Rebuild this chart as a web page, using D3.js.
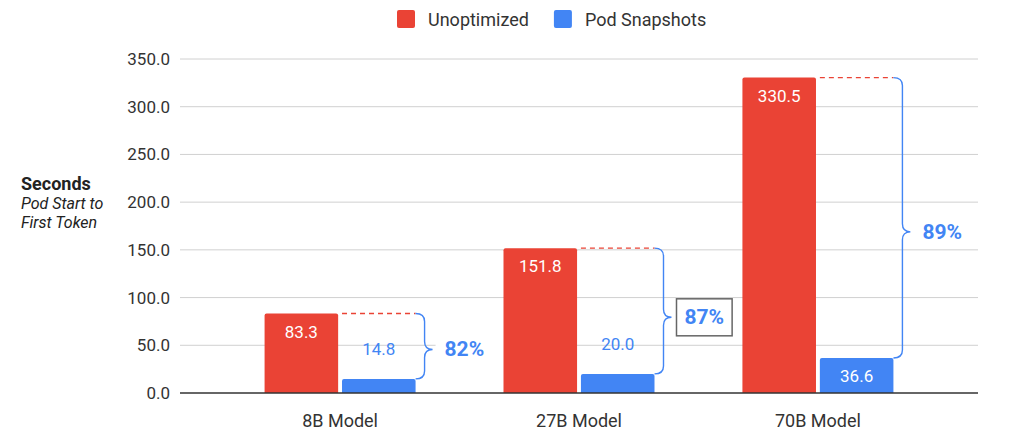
<!DOCTYPE html>
<html>
<head>
  <meta charset="utf-8">
  <title>Pod Start to First Token</title>
  <style>
    body { margin: 0; background: #fff; }
    text { font-family: Roboto, Arial, sans-serif; }
    .grid line { stroke: #d0d0d0; stroke-width: 1px; }
  </style>
</head>
<body>
  <svg id="chart" width="1024" height="440"></svg>

  <script src="https://d3js.org/d3.v7.min.js"></script>
  <script>
    // Data
    const categories = ["8B Model", "27B Model", "70B Model"];
    const seriesNames = ["Unoptimized", "Pod Snapshots"];
    const unoptimized = [83.3, 151.8, 330.5];
    const podSnapshots = [14.8, 20.0, 36.6];
    const reductionLabels = ["82%", "87%", "89%"];
    const boxedLabel = [false, true, false];
    const yTicks = [0, 50, 100, 150, 200, 250, 300, 350];

    const colors = ["#ea4335", "#4285f4"];
    const blueText = "#4285f4";

    const svg = d3.select("#chart");

    const x0 = d3.scaleBand()
      .domain(categories)
      .range([180, 978])
      .paddingInner(0.368)
      .paddingOuter(0.354);

    const x1 = d3.scaleBand()
      .domain(seriesNames)
      .range([0, x0.bandwidth()])
      .paddingInner(0.05);

    const y = d3.scaleLinear()
      .domain([0, 350])
      .range([393, 59]);

    // Gridlines
    svg.append("g")
      .attr("class", "grid")
      .selectAll("line")
      .data(yTicks.filter(d => d > 0))
      .enter().append("line")
      .attr("x1", 180)
      .attr("x2", 978)
      .attr("y1", d => y(d))
      .attr("y2", d => y(d));

    // Y axis tick labels
    const yAxis = d3.axisLeft(y)
      .tickValues(yTicks)
      .tickFormat(d3.format(".1f"))
      .tickSize(0)
      .tickPadding(10);

    svg.append("g")
      .attr("transform", "translate(180,0)")
      .call(yAxis)
      .call(g => g.select(".domain").remove())
      .call(g => g.selectAll("text")
        .attr("fill", "#333")
        .style("font-size", "17px")
        .style("font-family", "Roboto, Arial, sans-serif"));

    // Y axis title
    const yTitle = svg.append("text")
      .attr("x", 21)
      .attr("y", 190)
      .attr("fill", "#222");
    yTitle.append("tspan")
      .attr("x", 21)
      .attr("font-weight", "bold")
      .attr("font-size", 18)
      .text("Seconds");
    yTitle.append("tspan")
      .attr("x", 21)
      .attr("dy", 19)
      .attr("font-style", "italic")
      .attr("font-size", 16)
      .text("Pod Start to");
    yTitle.append("tspan")
      .attr("x", 21)
      .attr("dy", 19)
      .attr("font-style", "italic")
      .attr("font-size", 16)
      .text("First Token");

    // Grouped data
    const groups = categories.map((c, i) => ({
      category: c,
      values: [unoptimized[i], podSnapshots[i]],
      label: reductionLabels[i],
      boxed: boxedLabel[i]
    }));

    const group = svg.selectAll(".group")
      .data(groups)
      .enter().append("g")
      .attr("class", "group")
      .attr("transform", d => `translate(${x0(d.category)},0)`);

    // Bars
    group.selectAll("path.bar")
      .data(d => d.values.map((v, j) => ({ name: seriesNames[j], value: v, j })))
      .enter().append("path")
      .attr("class", "bar")
      .attr("fill", d => colors[d.j])
      .attr("d", d => {
        const bx = x1(d.name), bw = x1.bandwidth();
        const top = y(d.value), base = y(0), r = 2;
        return `M${bx},${base} V${top + r} Q${bx},${top} ${bx + r},${top} H${bx + bw - r} Q${bx + bw},${top} ${bx + bw},${top + r} V${base} Z`;
      });

    // Value labels
    group.selectAll("text.value")
      .data(d => d.values.map((v, j) => ({ name: seriesNames[j], value: v, j })))
      .enter().append("text")
      .attr("class", "value")
      .attr("text-anchor", "middle")
      .attr("dominant-baseline", "central")
      .attr("font-size", 17)
      .attr("x", d => x1(d.name) + x1.bandwidth() / 2)
      .attr("y", d => {
        const h = y(0) - y(d.value);
        return h > 25 ? y(d.value) + 18 : y(d.value) - 30;
      })
      .attr("fill", d => (y(0) - y(d.value) > 25) ? "#fff" : blueText)
      .text(d => d3.format(".1f")(d.value));

    // Dashed reference lines from red top to bracket
    const bStart = x1(seriesNames[1]) + x1.bandwidth();
    group.append("line")
      .attr("x1", x1(seriesNames[1]))
      .attr("x2", bStart)
      .attr("y1", d => y(d.values[0]))
      .attr("y2", d => y(d.values[0]))
      .attr("stroke", colors[0])
      .attr("stroke-width", 1.3)
      .attr("stroke-dasharray", "5,4");

    // Curly bracket (tip sits a little below the middle, as in the original)
    const xv = bStart + 9;
    const xt = bStart + 17;
    const tipAt = d => {
      const y1 = y(d.values[0]), y2 = y(d.values[1]);
      return y1 + (y2 - y1) * 0.55;
    };
    group.append("path")
      .attr("fill", "none")
      .attr("stroke", blueText)
      .attr("stroke-width", 1.4)
      .attr("d", d => {
        const y1 = y(d.values[0]), y2 = y(d.values[1]);
        const ym = tipAt(d), r = 8;
        return `M${bStart},${y1} Q${xv},${y1} ${xv},${y1 + r} V${ym - r} Q${xv},${ym} ${xt},${ym}` +
               ` Q${xv},${ym} ${xv},${ym + r} V${y2 - r} Q${xv},${y2} ${bStart},${y2}`;
      });

    // Reduction labels
    group.each(function(d) {
      const g = d3.select(this);
      const ym = tipAt(d);
      const bg = g.append("rect").attr("fill", "#fff");
      const tx = d.boxed ? xt + 13 : xt + 12;
      const t = g.append("text")
        .attr("x", tx)
        .attr("y", ym)
        .attr("dominant-baseline", "central")
        .attr("font-size", 21)
        .attr("font-weight", "bold")
        .attr("fill", blueText)
        .text(d.label);
      const bb = t.node().getBBox();
      if (d.boxed) {
        bg.attr("x", xt + 5)
          .attr("y", ym - 18.5)
          .attr("width", bb.width + 16)
          .attr("height", 37)
          .attr("stroke", "#666")
          .attr("stroke-width", 1.5);
      } else {
        bg.attr("x", xt + 3)
          .attr("y", ym - 12)
          .attr("width", bb.width + 30)
          .attr("height", 24);
      }
    });

    // Baseline axis
    svg.append("line")
      .attr("x1", 180)
      .attr("x2", 978)
      .attr("y1", y(0))
      .attr("y2", y(0))
      .attr("stroke", "#333")
      .attr("stroke-width", 1.3);

    // X axis labels
    svg.selectAll(".x-label")
      .data(categories)
      .enter().append("text")
      .attr("class", "x-label")
      .attr("text-anchor", "middle")
      .attr("dominant-baseline", "central")
      .attr("font-size", 18)
      .attr("fill", "#333")
      .attr("x", d => x0(d) + x0.bandwidth() / 2)
      .attr("y", 420)
      .text(d => d);

    // Legend
    const legend = svg.append("g").attr("transform", "translate(397,19)");
    let lx = 0;
    seriesNames.forEach((name, i) => {
      const item = legend.append("g").attr("transform", `translate(${lx},0)`);
      item.append("rect")
        .attr("x", 0).attr("y", -9)
        .attr("width", 18).attr("height", 18)
        .attr("rx", 2)
        .attr("fill", colors[i]);
      const t = item.append("text")
        .attr("x", 31)
        .attr("dominant-baseline", "central")
        .attr("font-size", 18)
        .attr("fill", "#333")
        .text(name);
      lx += 31 + t.node().getComputedTextLength() + 25;
    });
  </script>
</body>
</html>
